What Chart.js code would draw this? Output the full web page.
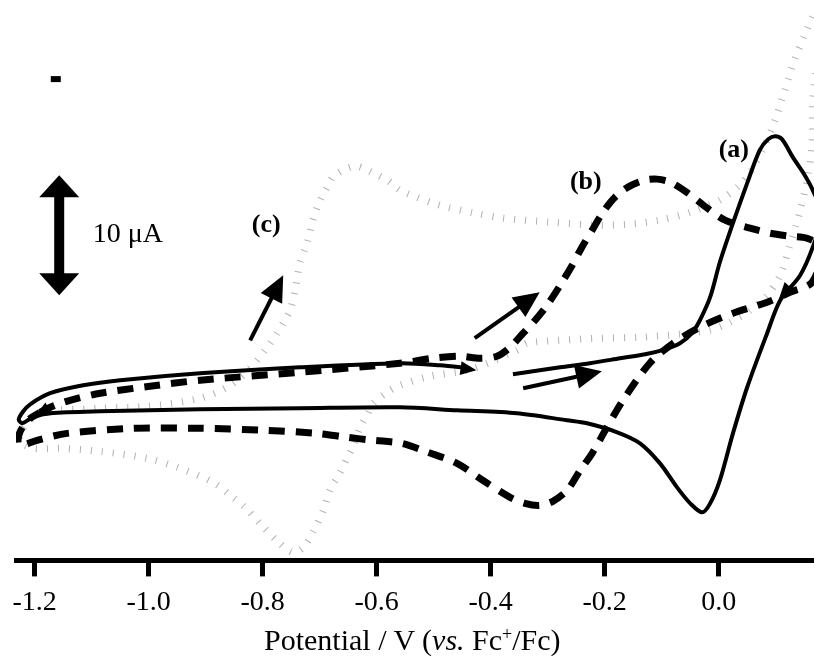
<!DOCTYPE html>
<html>
<head>
<meta charset="utf-8">
<script src="https://cdn.jsdelivr.net/npm/chart.js@4.4.0/dist/chart.umd.min.js"></script>
<style>
  body { margin: 0; background: #fff; }
  #wrap { position: relative; width: 814px; height: 656px; }
  #xtitle {
    position: absolute; left: 264px; top: 625px;
    white-space: nowrap; font-family: "Liberation Serif", serif; font-size: 30px; line-height: 30px; color: #000;
  }
  #xtitle sup { font-size: 60%; line-height: 0; vertical-align: 0.55em; }
</style>
</head>
<body>
<div id="wrap">
  <canvas id="chart"></canvas>
  <div id="xtitle">Potential / V (<i>vs.</i> Fc<sup>+</sup>/Fc)</div>
</div>
<script>
// potential in V vs Fc+/Fc, current in uA (arbitrary zero)
const xTicks = [-1.2, -1.0, -0.8, -0.6, -0.4, -0.2, 0.0];
const X_MIN = -1.2328, X_MAX = 0.1672;
const Y_MIN = -12.5, Y_MAX = 34.1667;

// (a) solid
const potA = [-0.361, -0.314, -0.278, -0.226, -0.173, -0.129, -0.094, -0.068, -0.047, -0.033, -0.015, 0.002, 0.025, 0.050, 0.072, 0.087, 0.099, 0.111, 0.130, 0.151, 0.165, 0.181,
  0.165, 0.143, 0.108, 0.085, 0.050, 0.025, 0.002, -0.015, -0.029, -0.050, -0.073, -0.103, -0.138, -0.178, -0.231, -0.266, -0.354, -0.459, -0.559, -0.735, -0.910, -1.085, -1.173, -1.203, -1.222, -1.228,
  -1.220, -1.208, -1.173, -1.115, -1.050, -0.910, -0.735, -0.559, -0.489, -0.437];
const curA = [3.0, 3.33, 3.58, 3.92, 4.33, 4.67, 5.08, 5.58, 6.42, 7.5, 9.42, 12.33, 15.58, 18.92, 21.67, 22.58, 22.83, 22.58, 21.08, 19.58, 18.33, 16.25,
  13.58, 11.25, 9.17, 6.42, 1.92, -1.92, -5.83, -7.75, -8.5, -7.75, -6.42, -4.42, -2.75, -1.83, -1.08, -0.83, -0.25, 0, 0.25, 0.17, 0.08, -0.08, -0.25, -0.58, -1.08, -0.75,
  -0.08, 0.5, 1.42, 2.08, 2.5, 3.08, 3.58, 3.92, 3.75, 3.5];

// (b) dashed
const potB = [-1.191, -1.164, -1.138, -1.085, -0.998, -0.910, -0.735, -0.559, -0.502, -0.454, -0.419, -0.389, -0.366, -0.343, -0.322, -0.301, -0.278, -0.257, -0.240, -0.222, -0.203, -0.182, -0.156, -0.129, -0.108, -0.085, -0.054, -0.020, 0.011, 0.055, 0.090, 0.125, 0.155, 0.181,
  0.164, 0.125, 0.085, 0.025, -0.033, -0.080, -0.121, -0.168, -0.196, -0.222, -0.243, -0.266, -0.291, -0.314, -0.340, -0.366, -0.414, -0.459, -0.510, -0.556, -0.606, -0.652, -0.705, -0.792, -0.910, -1.028, -1.143, -1.196, -1.222, -1.229,
  -1.226, -1.212, -1.191];
const curB = [-0.17, 0.42, 0.83, 1.42, 2.0, 2.5, 3.17, 3.92, 4.33, 4.5, 4.33, 4.5, 5.25, 6.42, 7.5, 8.75, 10.42, 12.08, 13.58, 15.0, 16.5, 17.75, 18.67, 19.17, 19.25, 19.0, 18.08, 16.83, 15.83, 15.17, 14.75, 14.5, 14.33, 13.5,
  10.67, 9.83, 9.0, 8.08, 6.92, 5.58, 3.92, 0.83, -1.42, -3.58, -5.0, -6.67, -7.58, -7.92, -7.75, -7.25, -5.83, -4.42, -3.5, -2.75, -2.5, -2.25, -1.92, -1.67, -1.5, -1.5, -1.92, -2.5, -2.92, -2.75,
  -1.83, -0.83, -0.17];

// (c) grey
const potC = [-0.068, -0.138, -0.208, -0.278, -0.336, -0.354, -0.401, -0.442, -0.507, -0.559, -0.582, -0.606, -0.617, -0.629, -0.643, -0.652, -0.664, -0.682, -0.694, -0.712, -0.729, -0.747, -0.770, -0.805, -0.831, -0.852, -0.887, -0.950, -1.003, -1.085, -1.156, -1.203, -1.226,
  -1.217, -1.191, -1.159, -1.085, -1.003, -0.910, -0.857, -0.822, -0.796, -0.775, -0.761, -0.752, -0.743, -0.735, -0.722, -0.712, -0.699, -0.687, -0.677, -0.659, -0.638, -0.624, -0.606, -0.582, -0.559, -0.530, -0.502, -0.477, -0.428, -0.378, -0.296, -0.214, -0.156, -0.103, -0.050, 0.002, 0.037, 0.058, 0.081, 0.099, 0.116, 0.134, 0.151, 0.169, 0.195,
  0.174, 0.165, 0.164, 0.157, 0.143, 0.125, 0.108, 0.085, 0.055, 0.020, -0.015, -0.068];
const curC = [6.33, 6.08, 6.0, 5.83, 5.58, 5.0, 4.0, 3.33, 2.83, 2.08, 1.5, 0.58, -0.42, -1.42, -3.17, -4.0, -5.17, -6.67, -8.33, -10.17, -11.42, -11.83, -11.08, -9.42, -8.08, -7.25, -6.0, -4.75, -4.0, -3.42, -3.17, -3.17, -2.5,
  -1.25, -0.25, 0, 0.17, 0.33, 1.0, 2.08, 3.5, 5.0, 6.42, 7.5, 8.33, 10.0, 12.25, 13.92, 15.83, 17.5, 18.58, 19.42, 20.0, 20.33, 20.17, 19.75, 19.17, 18.33, 17.75, 17.25, 16.92, 16.42, 16.0, 15.67, 15.42, 15.5, 15.83, 16.5, 17.5, 18.75, 20.0, 22.08, 24.17, 26.67, 29.33, 31.25, 33.17, 34.58,
  29.17, 25.83, 22.5, 19.58, 16.67, 13.75, 11.25, 9.58, 8.33, 7.33, 6.67, 6.33];

const toXY = (xs, ys) => xs.map((x, i) => ({x: x, y: ys[i]}));

// annotations, in data units (V, uA)
const labels = [
  {text: '(a)', x: 0.0, y: 21.08},
  {text: '(b)', x: -0.261, y: 18.42},
  {text: '(c)', x: -0.819, y: 14.83}
];
const arrows = [
  {from: [-0.822, 5.83], to: [-0.764, 11.25]},
  {from: [-0.428, 6.0], to: [-0.314, 9.83]},
  {from: [-0.343, 1.83], to: [-0.205, 3.25]}
];
const heads = [
  {from: [-0.489, 3.75], to: [-0.425, 3.33]},
  {from: [-1.164, 0.42], to: [-1.200, -0.5]},
  {from: [0.143, 11.25], to: [0.106, 9.3]}
];

function drawHead(ctx, x1, y1, x2, y2, len, half) {
  const a = Math.atan2(y2 - y1, x2 - x1);
  const c = Math.cos(a), s = Math.sin(a);
  ctx.beginPath();
  ctx.moveTo(x2, y2);
  ctx.lineTo(x2 - len * c + half * s, y2 - len * s - half * c);
  ctx.lineTo(x2 - len * c - half * s, y2 - len * s + half * c);
  ctx.closePath();
  ctx.fill();
}

const annotate = {
  id: 'annotate',
  afterDatasetsDraw(chart) {
    const ctx = chart.ctx;
    const xs = chart.scales.x, ys = chart.scales.y;
    const px = v => xs.getPixelForValue(v), py = v => ys.getPixelForValue(v);
    ctx.save();
    ctx.fillStyle = '#000';
    ctx.strokeStyle = '#000';

    // scale bar 10 uA
    const bx = px(-1.157), bt = py(19.58), bb = py(9.58);
    ctx.lineWidth = 10;
    ctx.beginPath(); ctx.moveTo(bx, bt + 20); ctx.lineTo(bx, bb - 20); ctx.stroke();
    drawHead(ctx, bx, bb, bx, bt, 22, 20);
    drawHead(ctx, bx, bt, bx, bb, 22, 20);
    ctx.font = '28px "Liberation Serif", serif';
    ctx.textBaseline = 'alphabetic';
    ctx.fillText('10 \u03bcA', px(-1.098), py(14.0));

    // stray mark top left
    ctx.fillRect(px(-1.163) - 5, py(27.58) - 3, 10, 6);

    ctx.font = 'bold 26px "Liberation Serif", serif';
    labels.forEach(l => ctx.fillText(l.text, px(l.x), py(l.y)));

    ctx.lineWidth = 4;
    arrows.forEach(a => {
      const x1 = px(a.from[0]), y1 = py(a.from[1]), x2 = px(a.to[0]), y2 = py(a.to[1]);
      const ang = Math.atan2(y2 - y1, x2 - x1);
      ctx.beginPath(); ctx.moveTo(x1, y1);
      ctx.lineTo(x2 - 20 * Math.cos(ang), y2 - 20 * Math.sin(ang)); ctx.stroke();
      drawHead(ctx, x1, y1, x2, y2, 26, 12);
    });
    heads.forEach(h => drawHead(ctx, px(h.from[0]), py(h.from[1]), px(h.to[0]), py(h.to[1]), 16, 7));
    ctx.restore();
  }
};

new Chart(document.getElementById('chart'), {
  type: 'scatter',
  data: {
    datasets: [
      {label: '(a)', data: toXY(potA, curA), showLine: true, borderColor: '#000', borderWidth: 4, pointRadius: 0, tension: 0.3},
      {label: '(b)', data: toXY(potB, curB), showLine: true, borderColor: '#000', borderWidth: 7, borderDash: [16, 11], borderCapStyle: 'butt', pointRadius: 0, tension: 0.3},
      {label: '(c)', data: toXY(potC, curC), showLine: true, borderColor: '#b0b0b0', borderWidth: 7, borderDash: [1, 10], borderCapStyle: 'butt', pointRadius: 0, tension: 0.3}
    ]
  },
  options: {
    responsive: true,
    maintainAspectRatio: false,
    animation: false,
    layout: {padding: {left: 16, right: 0, top: 0, bottom: 28}},
    plugins: {legend: {display: false}, tooltip: {enabled: false}},
    scales: {
      x: {
        type: 'linear', min: X_MIN, max: X_MAX,
        afterBuildTicks: s => { s.ticks = xTicks.map(v => ({value: v})); },
        border: {display: true, color: '#000', width: 5},
        grid: {display: true, drawOnChartArea: false, drawTicks: true, tickLength: 16, tickWidth: 5, tickColor: '#000'},
        ticks: {color: '#000', padding: 9, maxRotation: 0, autoSkip: false,
          font: {family: '"Liberation Serif", serif', size: 28},
          callback: v => v.toFixed(1)}
      },
      y: {type: 'linear', display: false, min: Y_MIN, max: Y_MAX}
    }
  },
  plugins: [annotate]
});
</script>
</body>
</html>
